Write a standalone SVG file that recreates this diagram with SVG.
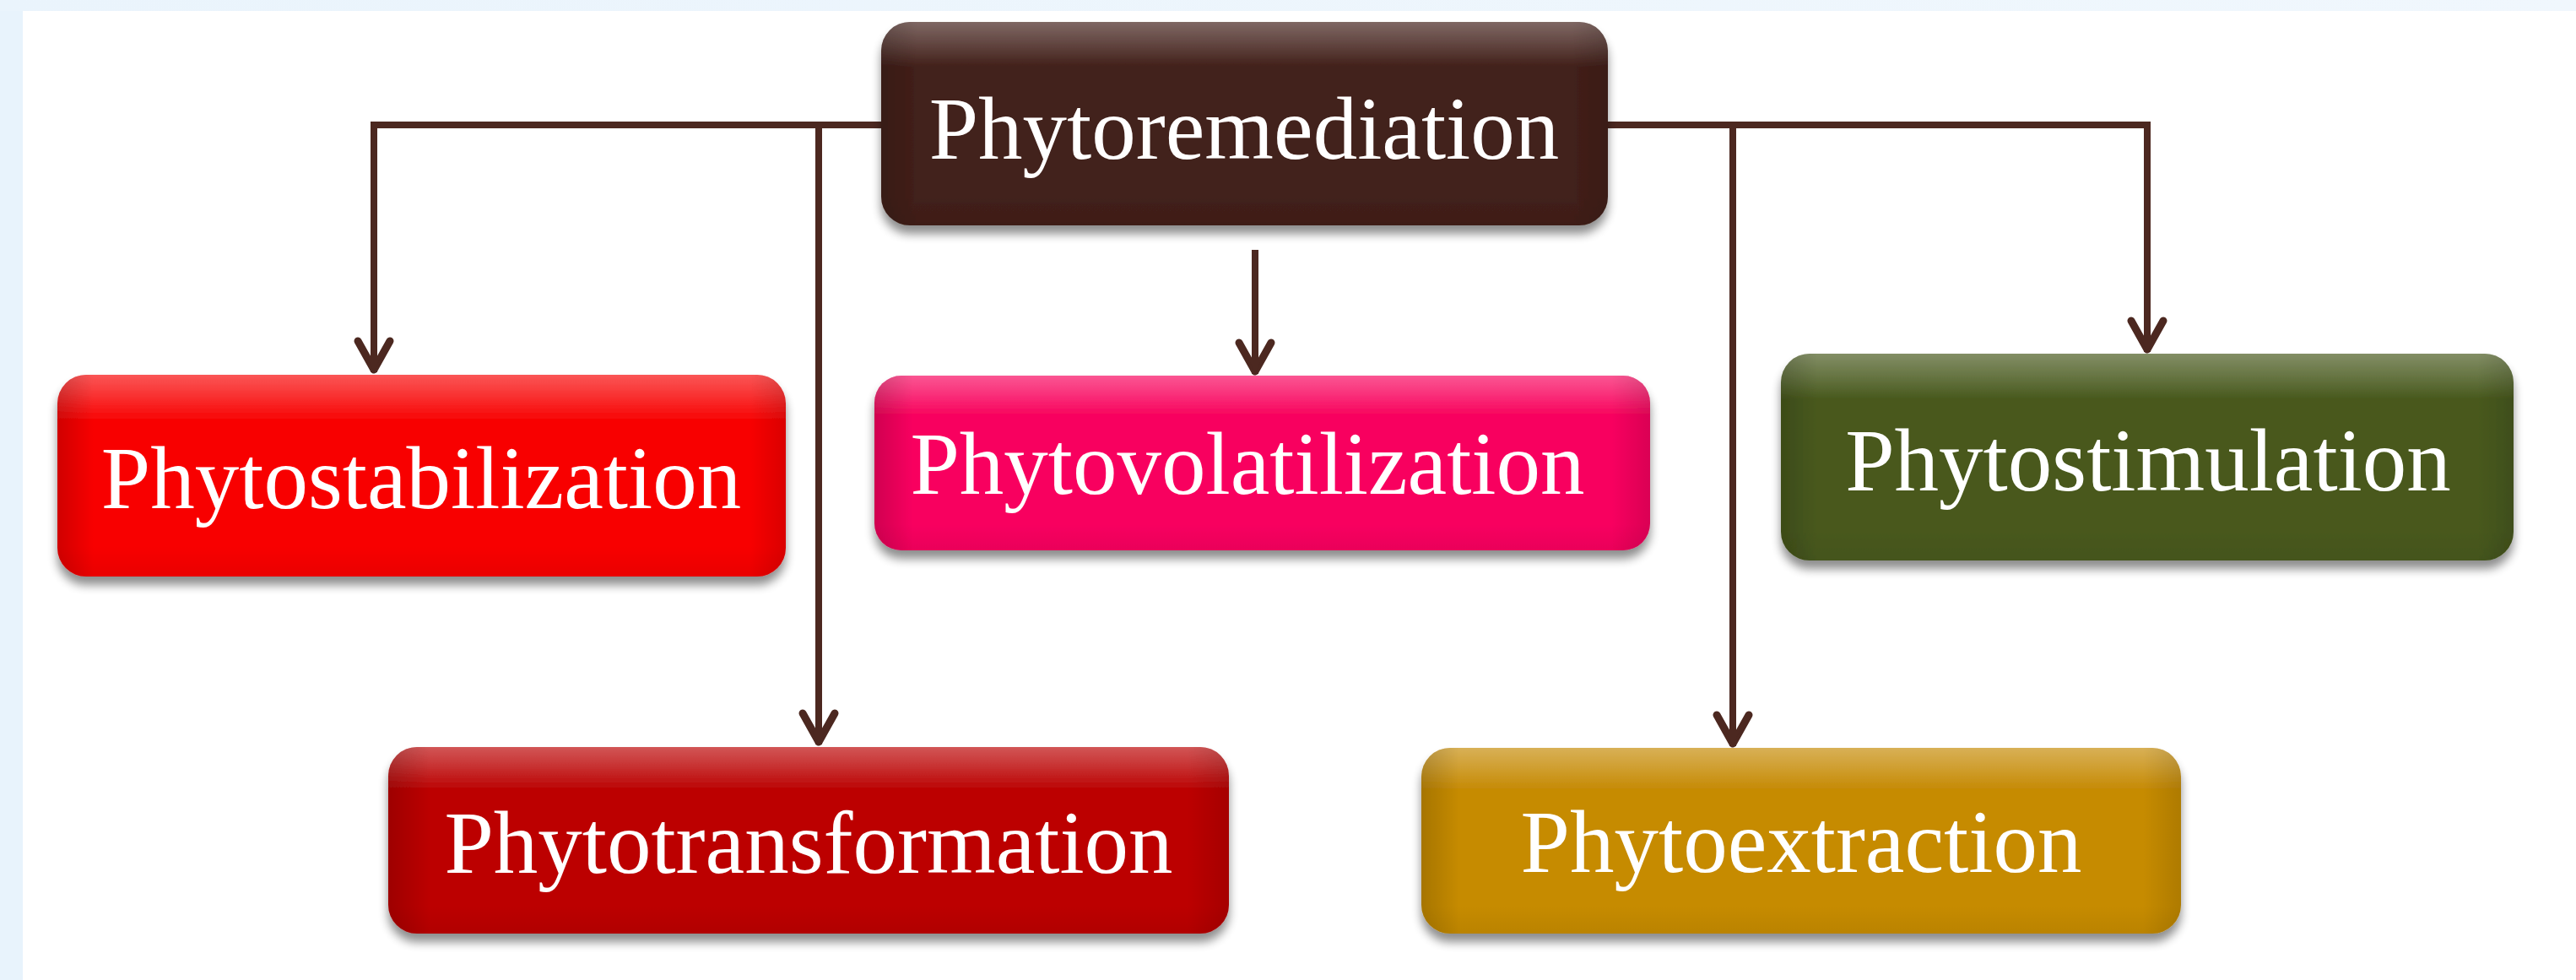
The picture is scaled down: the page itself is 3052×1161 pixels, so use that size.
<svg xmlns="http://www.w3.org/2000/svg" width="3052" height="1161" viewBox="0 0 3052 1161">
  <defs>
    <style>
      .lbl { font-family: "Liberation Serif", "Times New Roman", serif; font-size: 105px; fill: #ffffff; text-anchor: middle; }
      .conn { fill: none; stroke: #4C2820; stroke-width: 8; stroke-linecap: butt; stroke-linejoin: miter; }
    </style>
    <linearGradient id="bgTop" x1="0" y1="0" x2="1" y2="0">
      <stop offset="0" stop-color="#EAF4FC"/>
      <stop offset="1" stop-color="#F0F7FD"/>
    </linearGradient>
    <linearGradient id="hl" x1="0" y1="0" x2="0" y2="1">
      <stop offset="0" stop-color="#ffffff" stop-opacity="0.32"/>
      <stop offset="0.1" stop-color="#ffffff" stop-opacity="0.18"/>
      <stop offset="0.22" stop-color="#ffffff" stop-opacity="0"/>
      <stop offset="0.85" stop-color="#000000" stop-opacity="0"/>
      <stop offset="1" stop-color="#000000" stop-opacity="0.06"/>
    </linearGradient>
    <linearGradient id="side" x1="0" y1="0" x2="1" y2="0">
      <stop offset="0" stop-color="#000000" stop-opacity="0.16"/>
      <stop offset="0.05" stop-color="#000000" stop-opacity="0"/>
      <stop offset="0.95" stop-color="#000000" stop-opacity="0"/>
      <stop offset="1" stop-color="#000000" stop-opacity="0.12"/>
    </linearGradient>
    <filter id="sh" x="-5%" y="-10%" width="110%" height="130%">
      <feGaussianBlur in="SourceAlpha" stdDeviation="6"/>
      <feOffset dx="0" dy="10" result="b"/>
      <feComponentTransfer><feFuncA type="linear" slope="0.45"/></feComponentTransfer>
      <feMerge><feMergeNode/><feMergeNode in="SourceGraphic"/></feMerge>
    </filter>
    <marker id="arr" markerUnits="userSpaceOnUse" viewBox="-50 -30 60 60" refX="0" refY="0" markerWidth="60" markerHeight="60" orient="auto">
      <path d="M-37,-19 L-3,0 L-37,19" fill="none" stroke="#4C2820" stroke-width="9" stroke-linecap="round" stroke-linejoin="round"/>
      <path d="M0,0 L-18,-8 L-18,8 Z" fill="#4C2820"/>
    </marker>
  </defs>

  <!-- background -->
  <rect x="0" y="0" width="3052" height="1161" fill="#E8F3FC"/>
  <rect x="0" y="0" width="3052" height="13" fill="url(#bgTop)"/>
  <rect x="27" y="13" width="3025" height="1148" fill="#FFFFFF"/>

  <!-- connectors -->
  <g id="connectors">
    <path class="conn" d="M1044,148 H443 V441" marker-end="url(#arr)"/>
    <path class="conn" d="M1000,148 H970 V882" marker-end="url(#arr)"/>
    <path class="conn" d="M1487,296 V443" marker-end="url(#arr)"/>
    <path class="conn" d="M1905,148 H2544 V417" marker-end="url(#arr)"/>
    <path class="conn" d="M2000,148 H2053 V884" marker-end="url(#arr)"/>
  </g>

  <g id="phytoremediation" filter="url(#sh)">
    <rect x="1044" y="26" width="861" height="241" rx="34" fill="#42201A"/>
    <rect x="1044" y="26" width="861" height="241" rx="34" fill="url(#hl)"/>
    <rect x="1044" y="26" width="861" height="241" rx="34" fill="url(#side)"/>
    <text class="lbl" x="1474" y="188">Phytoremediation</text>
  </g>

  <g id="phytostabilization" filter="url(#sh)">
    <rect x="68" y="444" width="863" height="239" rx="34" fill="#F80606"/>
    <rect x="68" y="444" width="863" height="239" rx="34" fill="url(#hl)"/>
    <rect x="68" y="444" width="863" height="239" rx="34" fill="url(#side)"/>
    <text class="lbl" x="499" y="602">Phytostabilization</text>
  </g>

  <g id="phytovolatilization" filter="url(#sh)">
    <rect x="1036" y="445" width="919" height="207" rx="32" fill="#F8065F"/>
    <rect x="1036" y="445" width="919" height="207" rx="32" fill="url(#hl)"/>
    <rect x="1036" y="445" width="919" height="207" rx="32" fill="url(#side)"/>
    <text class="lbl" x="1478" y="585">Phytovolatilization</text>
  </g>

  <g id="phytostimulation" filter="url(#sh)">
    <rect x="2110" y="419" width="868" height="245" rx="34" fill="#48591D"/>
    <rect x="2110" y="419" width="868" height="245" rx="34" fill="url(#hl)"/>
    <rect x="2110" y="419" width="868" height="245" rx="34" fill="url(#side)"/>
    <text class="lbl" x="2545" y="581">Phytostimulation</text>
  </g>

  <g id="phytotransformation" filter="url(#sh)">
    <rect x="460" y="885" width="996" height="221" rx="34" fill="#BC0606"/>
    <rect x="460" y="885" width="996" height="221" rx="34" fill="url(#hl)"/>
    <rect x="460" y="885" width="996" height="221" rx="34" fill="url(#side)"/>
    <text class="lbl" x="958" y="1034">Phytotransformation</text>
  </g>

  <g id="phytoextraction" filter="url(#sh)">
    <rect x="1684" y="886" width="900" height="220" rx="34" fill="#C68B06"/>
    <rect x="1684" y="886" width="900" height="220" rx="34" fill="url(#hl)"/>
    <rect x="1684" y="886" width="900" height="220" rx="34" fill="url(#side)"/>
    <text class="lbl" x="2134" y="1033">Phytoextraction</text>
  </g>
</svg>
